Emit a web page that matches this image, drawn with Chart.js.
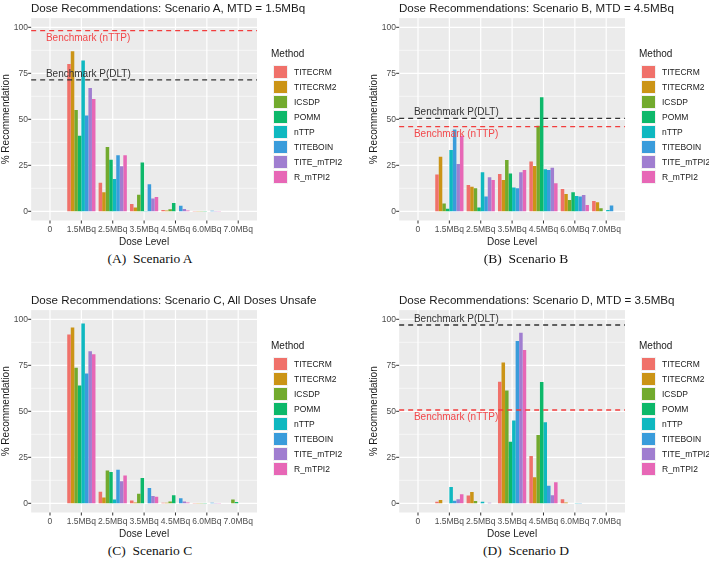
<!DOCTYPE html>
<html>
<head>
<meta charset="utf-8">
<script src="https://cdn.jsdelivr.net/npm/chart.js@4.4.1/dist/chart.umd.min.js"></script>
<style>
  body { margin: 0; width: 709px; height: 562px; background: #fff; position: relative; overflow: hidden; font-family: "Liberation Sans", Arial, sans-serif; }
  .panel { position: absolute; width: 341px; height: 250px; }
  .panel canvas { position: absolute; left: 0; top: 0; }
  .title { position: absolute; left: 31px; top: 0; font-size: 11.6px; line-height: 15px; color: #1a1a1a; white-space: nowrap; }
  .legend { position: absolute; left: 271px; top: 48px; font-size: 8.5px; color: #1a1a1a; }
  .legend .lt { font-size: 10px; margin: 0 0 4px 0; line-height: 12px; }
  .legend .row { height: 15px; display: flex; align-items: center; }
  .legend .key { width: 15px; height: 14px; margin: 0 6px 0 2px; box-sizing: border-box; border: 1px solid #f2f2f2; }
  .cap { position: absolute; font-family: "Liberation Serif", "Times New Roman", serif; font-size: 13.5px; color: #111; white-space: nowrap; transform: translate(-50%, -50%); }
</style>
</head>
<body>
<div class="panel" id="pA" style="left:0;top:0"><canvas id="cA" width="341" height="248"></canvas><div class="title">Dose Recommendations: Scenario A, MTD = 1.5MBq</div></div>
<div class="panel" id="pB" style="left:368px;top:0"><canvas id="cB" width="341" height="248"></canvas><div class="title">Dose Recommendations: Scenario B, MTD = 4.5MBq</div></div>
<div class="panel" id="pC" style="left:0;top:292px"><canvas id="cC" width="341" height="248"></canvas><div class="title">Dose Recommendations: Scenario C, All Doses Unsafe</div></div>
<div class="panel" id="pD" style="left:368px;top:292px"><canvas id="cD" width="341" height="248"></canvas><div class="title">Dose Recommendations: Scenario D, MTD = 3.5MBq</div></div>
<div class="cap" style="left:150px;top:259px">(A)&nbsp; Scenario A</div>
<div class="cap" style="left:526px;top:259px">(B)&nbsp; Scenario B</div>
<div class="cap" style="left:150px;top:551px">(C)&nbsp; Scenario C</div>
<div class="cap" style="left:526px;top:551px">(D)&nbsp; Scenario D</div>
<script>
const doseLevels = ['0', '1.5MBq', '2.5MBq', '3.5MBq', '4.5MBq', '6.0MBq', '7.0MBq'];
const methods = ['TITECRM', 'TITECRM2', 'ICSDP', 'POMM', 'nTTP', 'TITEBOIN', 'TITE_mTPI2', 'R_mTPI2'];
const methodColors = ['#F0716A', '#CB9416', '#72AA2E', '#0DB86A', '#0FB8C0', '#3A9CDB', '#A07ED0', '#E767B6'];
const yTicks = [0, 25, 50, 75, 100];

// % recommendation, one row per method, one column per dose level
const recA = [
  [0, 80, 15.5, 4, 0.7, 0.2, 0],
  [0, 87, 10.3, 2, 0.5, 0.1, 0],
  [0, 55, 35, 9, 1.1, 0.2, 0],
  [0, 41, 28, 26.5, 4.5, 0.2, 0],
  [0, 82, 17.5, 0.2, 0, 0, 0],
  [0, 52, 30.5, 14.7, 3, 0.3, 0],
  [0, 67, 24.5, 7, 1.2, 0.2, 0],
  [0, 61, 30.5, 7.8, 0.5, 0.1, 0]
];
const recB = [
  [0, 20, 14.3, 20.3, 27, 12.1, 5.6],
  [0, 29.7, 13.4, 17, 24.6, 9.4, 4.9],
  [0, 4.3, 12.5, 27.9, 46.5, 6.1, 1.6],
  [0, 1.4, 2, 20.6, 62, 10.3, 0],
  [0, 33.3, 21.2, 13, 22.8, 8.3, 0.7],
  [0, 44.5, 8, 12.5, 22.4, 8, 3.2],
  [0, 25.7, 18.5, 21.2, 23.7, 8.9, 0],
  [0, 41, 17, 22.4, 15.2, 3.4, 0]
];
const recC = [
  [0, 91.7, 6.3, 1.5, 0.3, 0.1, 0],
  [0, 95.5, 3.1, 0.5, 0.3, 0.1, 0],
  [0, 73.7, 17.8, 5.2, 1, 0.1, 2],
  [0, 64, 17, 13.7, 4.4, 0.1, 0.7],
  [0, 97.7, 2, 0, 0, 0, 0],
  [0, 70.5, 18.2, 8.3, 2.8, 0.3, 0],
  [0, 82.7, 12, 4, 1, 0.2, 0],
  [0, 81, 15.1, 3.6, 0.4, 0.1, 0]
];
const recD = [
  [0, 0.8, 4.3, 66, 25.7, 2.2, 0],
  [0, 1.8, 6.1, 76.5, 14.1, 0.4, 0],
  [0, 0, 1.2, 61.3, 37.1, 0, 0],
  [0, 0, 0, 33.5, 65.9, 0, 0],
  [0, 8.9, 0.8, 45, 44, 0.2, 0],
  [0, 1.4, 0, 88.2, 9.6, 0.1, 0],
  [0, 2.2, 0.3, 92.7, 4.4, 0, 0],
  [0, 4.9, 0, 83.3, 11.4, 0, 0]
];
const benchDLT = [71.4, 50.5, null, 96.9];
const benchNTTP = [98.2, 46, null, 50.7];

const panelBg = {
  id: 'panelBg',
  beforeDraw(chart) {
    const { ctx, chartArea: a, scales: { x, y } } = chart;
    const cw = x.getPixelForValue(1) - x.getPixelForValue(0);
    const l = a.left - 0.1 * cw, r = a.right + 0.1 * cw;
    ctx.save();
    ctx.fillStyle = '#ebebeb';
    ctx.fillRect(l, a.top, r - l, a.bottom - a.top);
    ctx.strokeStyle = '#ffffff';
    ctx.lineWidth = 0.6;
    [12.5, 37.5, 62.5, 87.5].forEach(v => {
      const py = y.getPixelForValue(v);
      ctx.beginPath(); ctx.moveTo(l, py); ctx.lineTo(r, py); ctx.stroke();
    });
    ctx.lineWidth = 1.2;
    yTicks.forEach(v => {
      const py = y.getPixelForValue(v);
      ctx.beginPath(); ctx.moveTo(l, py); ctx.lineTo(r, py); ctx.stroke();
    });
    doseLevels.forEach((d, i) => {
      const px = x.getPixelForValue(i);
      ctx.beginPath(); ctx.moveTo(px, a.top); ctx.lineTo(px, a.bottom); ctx.stroke();
    });
    ctx.strokeStyle = '#333';
    ctx.lineWidth = 1;
    yTicks.forEach(v => {
      const py = y.getPixelForValue(v);
      ctx.beginPath(); ctx.moveTo(l - 3, py); ctx.lineTo(l, py); ctx.stroke();
    });
    doseLevels.forEach((d, i) => {
      const px = x.getPixelForValue(i);
      ctx.beginPath(); ctx.moveTo(px, a.bottom); ctx.lineTo(px, a.bottom + 3); ctx.stroke();
    });
    ctx.restore();
  },
  afterDatasetsDraw(chart, args, opts) {
    const { ctx, chartArea: a, scales: { x, y } } = chart;
    const cw = x.getPixelForValue(1) - x.getPixelForValue(0);
    const l = a.left - 0.1 * cw, r = a.right + 0.1 * cw;
    const tx = x.getPixelForValue(0) - 0.13 * cw;
    const lines = [
      { v: opts.dlt, color: '#333333', text: 'Benchmark P(DLT)', dy: -6 },
      { v: opts.nttp, color: '#F23D3D', text: 'Benchmark (nTTP)', dy: 7.5 }
    ];
    ctx.save();
    lines.forEach(b => {
      if (b.v == null) return;
      const py = y.getPixelForValue(b.v);
      ctx.strokeStyle = b.color;
      ctx.lineWidth = 1.3;
      ctx.setLineDash([5, 4]);
      ctx.beginPath(); ctx.moveTo(l, py); ctx.lineTo(r, py); ctx.stroke();
      ctx.setLineDash([]);
      ctx.fillStyle = b.color === '#333333' ? '#333333' : '#F2484B';
      ctx.font = '10px "Liberation Sans", Arial, sans-serif';
      ctx.textBaseline = 'middle';
      ctx.textAlign = 'left';
      ctx.fillText(b.text, tx, py + b.dy);
    });
    ctx.restore();
  }
};

function makeChart(id, rec, k) {
  const ctx = document.getElementById(id).getContext('2d');
  return new Chart(ctx, {
    type: 'bar',
    data: {
      labels: doseLevels,
      datasets: methods.map((m, i) => ({
        label: m,
        data: rec[i],
        backgroundColor: methodColors[i],
        borderWidth: 0,
        barPercentage: 1,
        categoryPercentage: 0.9
      }))
    },
    plugins: [panelBg],
    options: {
      responsive: false,
      animation: false,
      layout: { padding: { top: 18.1, right: 87.1, left: 0, bottom: 0 } },
      plugins: {
        legend: { display: false },
        tooltip: { enabled: false },
        panelBg: { dlt: benchDLT[k], nttp: benchNTTP[k] }
      },
      scales: {
        x: {
          grid: { display: false, drawTicks: false },
          border: { display: false },
          ticks: { color: '#4d4d4d', font: { size: 8.5, family: '"Liberation Sans", Arial, sans-serif' }, padding: 4, maxRotation: 0, autoSkip: false },
          title: { display: true, text: 'Dose Level', color: '#1a1a1a', padding: 0, font: { size: 10, family: '"Liberation Sans", Arial, sans-serif' } },
          afterFit: s => { s.height = 27.5; }
        },
        y: {
          min: -5,
          max: 105,
          grid: { display: false, drawTicks: false },
          border: { display: false },
          ticks: { color: '#4d4d4d', font: { size: 8.5, family: '"Liberation Sans", Arial, sans-serif' }, padding: 6.3 },
          afterBuildTicks: s => { s.ticks = yTicks.map(v => ({ value: v })); },
          title: { display: true, text: '% Recommendation', color: '#1a1a1a', padding: 0, font: { size: 10, family: '"Liberation Sans", Arial, sans-serif' } },
          afterFit: s => { s.width = 34.3; }
        }
      }
    }
  });
}

function makeLegend(panelId) {
  const box = document.createElement('div');
  box.className = 'legend';
  box.innerHTML = '<div class="lt">Method</div>' + methods.map((m, i) =>
    `<div class="row"><span class="key" style="background:${methodColors[i]}"></span>${m}</div>`).join('');
  document.getElementById(panelId).appendChild(box);
}

makeChart('cA', recA, 0);
makeChart('cB', recB, 1);
makeChart('cC', recC, 2);
makeChart('cD', recD, 3);
['pA', 'pB', 'pC', 'pD'].forEach(makeLegend);
</script>
</body>
</html>
